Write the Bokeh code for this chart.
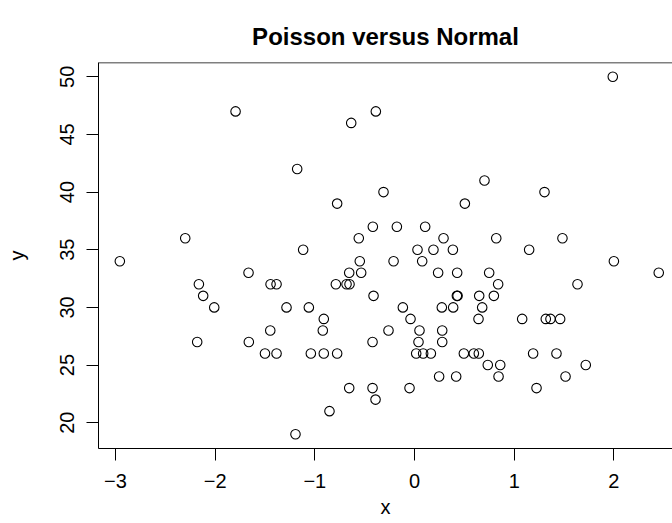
from bokeh.plotting import figure
from bokeh.models import Range1d, FixedTicker, Span
from bokeh.embed import file_html
from bokeh.resources import INLINE

# Data (x ~ Normal, y ~ Poisson)
x_normal = [
    -1.194,
    -0.853,
    -0.391,
    -0.655, -0.421, -0.05, 1.224,
    0.247, 0.418, 0.843, 1.515,
    0.735, 0.86, 1.718,
    -1.50, -1.384, -1.04, -0.91, -0.776, 0.017, 0.087, 0.164, 0.495, 0.595, 0.645, 1.19, 1.424,
    -2.18, -1.662, -0.421, 0.04, 0.278,
    -1.447, -0.92, -0.261, 0.05, 0.278,
    -0.91, -0.04, 0.642, 1.08, 1.317, 1.364, 1.461,
    -2.009, -1.284, -1.06, -0.117, 0.274, 0.388, 0.679,
    -2.12, -0.411, 0.425, 0.432, 0.649, 0.796,
    -2.163, -1.444, -1.384, -0.789, -0.682, -0.652, 0.839, 1.635,
    -1.665, -0.655, -0.535, 0.237, 0.428, 0.749, 2.45,
    -2.956, -0.549, -0.21, 0.077, 2.0,
    -1.117, 0.03, 0.19, 0.385, 1.15,
    -2.30, -0.559, 0.291, 0.82, 1.484,
    -0.418, -0.177, 0.107,
    -0.776, 0.505,
    -0.311, 1.304,
    0.702,
    -1.177,
    -0.635,
    -1.795, -0.388,
    1.989,
]
y_poisson = [
    19,
    21,
    22,
    23, 23, 23, 23,
    24, 24, 24, 24,
    25, 25, 25,
    26, 26, 26, 26, 26, 26, 26, 26, 26, 26, 26, 26, 26,
    27, 27, 27, 27, 27,
    28, 28, 28, 28, 28,
    29, 29, 29, 29, 29, 29, 29,
    30, 30, 30, 30, 30, 30, 30,
    31, 31, 31, 31, 31, 31,
    32, 32, 32, 32, 32, 32, 32, 32,
    33, 33, 33, 33, 33, 33, 33,
    34, 34, 34, 34, 34,
    35, 35, 35, 35, 35,
    36, 36, 36, 36, 36,
    37, 37, 37,
    39, 39,
    40, 40,
    41,
    42,
    46,
    47, 47,
    50,
]
x_ticks = [-3, -2, -1, 0, 1, 2]
x_tick_labels = ["\u22123", "\u22122", "\u22121", "0", "1", "2"]
y_ticks = [20, 25, 30, 35, 40, 45, 50]
y_tick_labels = ["20", "25", "30", "35", "40", "45", "50"]

FONT = "Liberation Sans"

p = figure(
    width=672, height=523,
    x_range=Range1d(-3.170, 2.588), y_range=Range1d(17.76, 51.24),
    output_backend="svg", toolbar_location=None,
    min_border_left=98, min_border_right=0, min_border_top=62, min_border_bottom=75,
    title="Poisson versus Normal",
)
p.background_fill_color = "white"
p.border_fill_color = "white"
p.outline_line_color = None
p.grid.visible = False

p.title.text_font = FONT
p.title.text_font_size = "24px"
p.title.text_font_style = "bold"
p.title.text_color = "black"
p.title.align = "center"
p.title.standoff = 26
p.title.offset = 4

for ax in (p.xaxis[0], p.yaxis[0]):
    ax.axis_line_color = "black"
    ax.axis_line_width = 1
    ax.major_tick_line_color = "black"
    ax.major_tick_out = 12
    ax.major_tick_in = 0
    ax.minor_tick_line_color = None
    ax.major_label_text_font = FONT
    ax.major_label_text_font_size = "20px"
    ax.major_label_text_color = "black"
    ax.axis_label_text_font = FONT
    ax.axis_label_text_font_size = "20px"
    ax.axis_label_text_font_style = "normal"
    ax.axis_label_text_color = "black"

p.xaxis.ticker = FixedTicker(ticks=x_ticks)
p.xaxis.major_label_overrides = dict(zip(x_ticks, x_tick_labels))
p.xaxis.axis_label = "x"
p.xaxis.major_label_standoff = 13
p.xaxis.axis_label_standoff = 5

p.yaxis.ticker = FixedTicker(ticks=y_ticks)
p.yaxis.major_label_overrides = dict(zip(y_ticks, y_tick_labels))
p.yaxis.axis_label = "y"
p.yaxis.major_label_orientation = "vertical"
p.yaxis.major_label_standoff = 12
p.yaxis.axis_label_standoff = 30

# top edge of the box
p.add_layout(Span(location=51.24, dimension="width", line_color="black", line_width=1.5))

p.scatter(x_normal, y_poisson, marker="circle", size=9.5,
          fill_color=None, line_color="black", line_width=1.1)

open("out.html", "w").write(file_html(p, INLINE))
